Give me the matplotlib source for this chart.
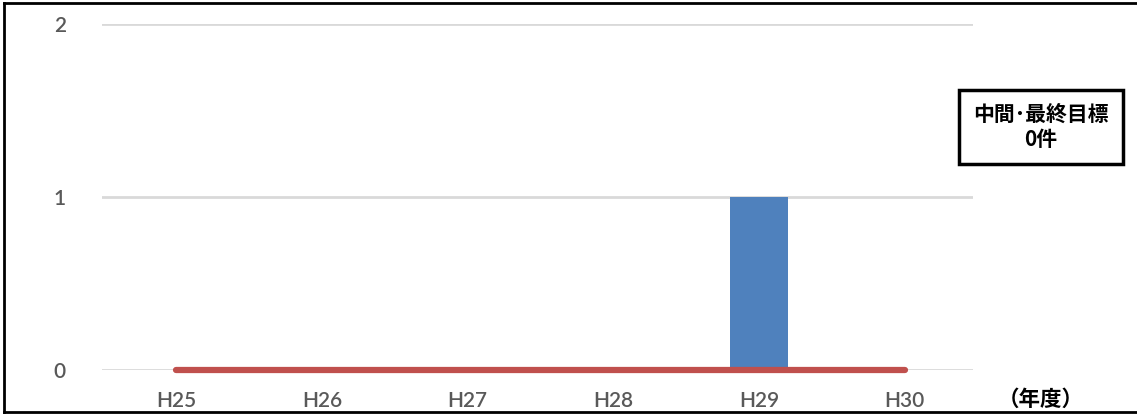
import matplotlib.pyplot as plt
from matplotlib.lines import Line2D

plt.rcParams['font.family'] = ['Noto Sans CJK JP', 'DejaVu Sans']

years = ['H25', 'H26', 'H27', 'H28', 'H29', 'H30']
counts = [0, 0, 0, 0, 1, 0]
target = [0, 0, 0, 0, 0, 0]

W, H = 1137, 415
fig = plt.figure(figsize=(W / 100, H / 100), dpi=100)
ax = fig.add_axes([102 / W, 1 - 370 / H, (973 - 102) / W, (370 - 24) / H])

x = range(len(years))
ax.bar(x, counts, width=0.4, color='#4f81bd', zorder=2)
ax.plot(x, target, color='#c0504d', lw=4.5, solid_capstyle='round',
        zorder=3, clip_on=False)

ax.set_xlim(-0.51, 5.47)
ax.set_ylim(0, 2)
ax.set_yticks([0, 1, 2])
ax.set_xticks(list(x))
ax.set_xticklabels(years)
ax.grid(axis='y', color='#d9d9d9', lw=2)
ax.set_axisbelow(True)
for s in ax.spines.values():
    s.set_visible(False)
ax.tick_params(length=0, labelsize=15, colors='#595959')
ax.tick_params(axis='x', pad=15)
ax.tick_params(axis='y', pad=26)
for lab in ax.get_xticklabels() + ax.get_yticklabels():
    lab.set_family('Lato')
    lab.set_fontweight('semibold')

fig.text(1041 / W, 1 - 399 / H, '（年度）', fontsize=15.5, fontweight='bold',
         ha='center', va='center')

fig.text(1041 / W, 1 - 127 / H, '中間･最終目標\n0件', fontsize=15,
         fontweight='bold', ha='center', va='center', linespacing=1.2,
         bbox=dict(boxstyle='square,pad=0.7', fc='white', ec='black', lw=2.5))

# outer frame (top, left, bottom)
for xs, ys in [((4, 1137), (3, 3)), ((4, 4), (3, 412)), ((4, 1137), (412, 412))]:
    fig.add_artist(Line2D([v / W for v in xs], [1 - v / H for v in ys],
                          color='black', lw=2))

fig.savefig('out.png', dpi=100)
